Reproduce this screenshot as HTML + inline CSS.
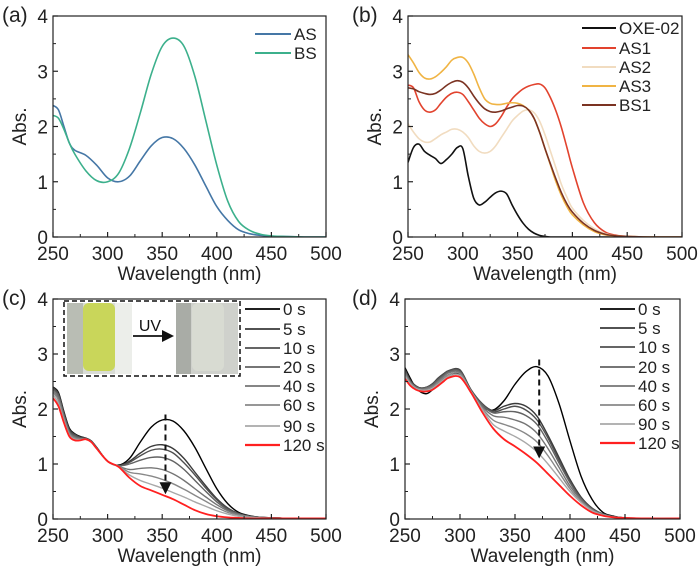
<!DOCTYPE html>
<html><head><meta charset="utf-8">
<style>
html,body{margin:0;padding:0;background:#fff;}
svg{display:block;font-family:"Liberation Sans",Arial,sans-serif;}
</style></head>
<body>
<svg id="fig" width="700" height="568" viewBox="0 0 700 568"></svg>
<script>
// ---------- DATA ----------
const wlA = [250,255,260,265,270,280,290,300,310,320,330,340,350,360,370,380,390,400,410,420,430,440,450,460,480,500];
const valAS = [2.38,2.3,2.0,1.7,1.57,1.48,1.3,1.07,1.0,1.1,1.38,1.65,1.8,1.78,1.6,1.3,0.92,0.55,0.3,0.13,0.06,0.03,0.015,0.01,0,0];
const valBS = [2.2,2.15,1.95,1.7,1.5,1.2,1.02,1.0,1.15,1.6,2.25,2.95,3.45,3.6,3.45,2.9,2.1,1.3,0.65,0.28,0.12,0.05,0.02,0.01,0,0];

const wlB = [250,255,260,265,270,275,280,285,290,295,300,305,310,315,320,325,330,335,340,345,350,355,360,365,370,375,380,385,390,395,400,410,420,430,440,450,470,500];
const valOXE = [1.35,1.62,1.68,1.55,1.48,1.42,1.33,1.4,1.5,1.62,1.6,1.1,0.7,0.58,0.63,0.72,0.8,0.83,0.78,0.58,0.4,0.25,0.14,0.07,0.03,0.01,0,0,0,0,0,0,0,0,0,0,0,0];
const valAS1 = [2.75,2.7,2.45,2.3,2.26,2.3,2.42,2.53,2.6,2.62,2.58,2.45,2.3,2.15,2.05,2.0,2.05,2.18,2.35,2.5,2.6,2.68,2.73,2.76,2.77,2.7,2.52,2.28,1.98,1.62,1.25,0.62,0.26,0.09,0.03,0.01,0,0];
const valAS2 = [2.05,1.9,1.78,1.72,1.72,1.78,1.85,1.9,1.95,1.95,1.9,1.8,1.65,1.55,1.52,1.55,1.65,1.8,1.95,2.1,2.2,2.28,2.3,2.25,2.1,1.85,1.55,1.25,0.95,0.72,0.52,0.3,0.15,0.06,0.02,0.01,0,0];
const valAS3 = [3.3,3.15,2.98,2.88,2.86,2.9,2.98,3.08,3.2,3.25,3.25,3.15,2.95,2.7,2.5,2.42,2.4,2.4,2.42,2.43,2.42,2.38,2.3,2.15,1.9,1.6,1.3,1.0,0.75,0.55,0.4,0.22,0.1,0.04,0.02,0.01,0,0];
const valBS1 = [2.7,2.68,2.63,2.6,2.58,2.6,2.66,2.74,2.8,2.83,2.8,2.7,2.55,2.42,2.32,2.27,2.26,2.28,2.32,2.35,2.38,2.37,2.3,2.15,1.9,1.6,1.32,1.05,0.8,0.6,0.45,0.25,0.12,0.05,0.02,0.01,0,0];

const wlC = [250,255,260,265,270,275,280,285,290,300,310,320,330,340,350,360,370,380,390,400,410,420,430,440,450,470,500];
const timeLabels = ["0 s","5 s","10 s","20 s","40 s","60 s","90 s","120 s"];
const c0 = [2.4,2.3,1.95,1.65,1.55,1.5,1.47,1.42,1.3,1.05,0.98,1.1,1.4,1.67,1.8,1.78,1.6,1.3,0.92,0.55,0.28,0.12,0.06,0.03,0.02,0.01,0.01];
const c5 = [2.39,2.28,1.93,1.63,1.54,1.49,1.47,1.42,1.3,1.05,0.97,1.05,1.2,1.32,1.35,1.28,1.1,0.85,0.6,0.37,0.2,0.1,0.05,0.03,0.02,0.01,0.01];
const c10 = [2.37,2.26,1.91,1.61,1.53,1.48,1.46,1.41,1.29,1.05,0.97,1.03,1.15,1.25,1.27,1.2,1.02,0.8,0.56,0.35,0.19,0.1,0.05,0.03,0.02,0.01,0.01];
const c20 = [2.35,2.24,1.89,1.59,1.51,1.47,1.46,1.41,1.29,1.05,0.97,1.0,1.07,1.12,1.12,1.05,0.9,0.7,0.5,0.31,0.17,0.09,0.05,0.03,0.02,0.01,0.01];
const c40 = [2.32,2.2,1.86,1.57,1.49,1.46,1.46,1.41,1.29,1.05,0.96,0.9,0.92,0.93,0.9,0.82,0.7,0.55,0.4,0.26,0.15,0.08,0.04,0.02,0.02,0.01,0.01];
const c60 = [2.3,2.16,1.83,1.55,1.47,1.45,1.45,1.4,1.28,1.05,0.96,0.85,0.82,0.78,0.72,0.64,0.54,0.43,0.32,0.21,0.12,0.07,0.04,0.02,0.02,0.01,0.01];
const c90 = [2.26,2.1,1.79,1.52,1.45,1.44,1.45,1.4,1.28,1.05,0.95,0.8,0.7,0.63,0.56,0.48,0.4,0.31,0.23,0.15,0.09,0.05,0.03,0.02,0.01,0.01,0.01];
const c120 = [2.2,2.05,1.75,1.5,1.43,1.43,1.45,1.4,1.28,1.05,0.95,0.75,0.6,0.52,0.44,0.36,0.26,0.16,0.09,0.05,0.03,0.02,0.01,0.01,0.01,0.01,0.01];

const d0 = [2.75,2.55,2.38,2.3,2.28,2.35,2.45,2.55,2.6,2.62,2.3,2.05,1.98,2.15,2.45,2.68,2.77,2.6,2.1,1.42,0.78,0.36,0.12,0.05,0.02,0.01,0.01];
const d5 = [2.72,2.52,2.42,2.38,2.4,2.46,2.56,2.64,2.7,2.71,2.35,2.1,1.97,2.05,2.1,2.05,1.87,1.52,1.12,0.72,0.4,0.2,0.09,0.04,0.02,0.01,0.01];
const d10 = [2.7,2.5,2.41,2.38,2.4,2.45,2.55,2.63,2.7,2.7,2.35,2.1,1.95,2.0,2.05,1.98,1.8,1.47,1.07,0.69,0.38,0.19,0.09,0.04,0.02,0.01,0.01];
const d20 = [2.68,2.49,2.4,2.37,2.39,2.44,2.53,2.61,2.68,2.68,2.33,2.08,1.93,1.95,1.95,1.88,1.72,1.4,1.02,0.66,0.37,0.18,0.09,0.04,0.02,0.01,0.01];
const d40 = [2.66,2.48,2.39,2.36,2.38,2.42,2.5,2.59,2.66,2.66,2.33,2.05,1.88,1.85,1.8,1.72,1.56,1.28,0.94,0.6,0.35,0.17,0.08,0.04,0.02,0.01,0.01];
const d60 = [2.63,2.47,2.38,2.35,2.36,2.4,2.48,2.56,2.63,2.64,2.32,2.02,1.8,1.72,1.65,1.55,1.4,1.15,0.85,0.55,0.32,0.16,0.08,0.03,0.02,0.01,0.01];
const d90 = [2.6,2.45,2.37,2.34,2.34,2.37,2.45,2.53,2.6,2.61,2.32,2.0,1.72,1.6,1.5,1.38,1.22,1.0,0.75,0.5,0.3,0.15,0.07,0.03,0.02,0.01,0.01];
const d120 = [2.55,2.42,2.35,2.32,2.32,2.35,2.42,2.5,2.57,2.58,2.3,1.95,1.65,1.45,1.32,1.18,1.02,0.82,0.62,0.42,0.25,0.12,0.06,0.03,0.02,0.01,0.01];

const xTicks = [250,300,350,400,450,500];
const yTicks = [0,1,2,3,4];
const arrowC = [353,1.9,0.45];
const arrowD = [372,2.9,1.1];

// ---------- DRAWING ----------
const NS="http://www.w3.org/2000/svg";
const svg=document.getElementById('fig');
function mk(tag,attrs,parent){const e=document.createElementNS(NS,tag);for(const k in attrs)e.setAttribute(k,attrs[k]);(parent||svg).appendChild(e);return e;}

function smoothPath(pts){
  let d=`M${pts[0][0].toFixed(2)},${pts[0][1].toFixed(2)}`;
  for(let i=0;i<pts.length-1;i++){
    const p0=pts[Math.max(0,i-1)],p1=pts[i],p2=pts[i+1],p3=pts[Math.min(pts.length-1,i+2)];
    const c1=[p1[0]+(p2[0]-p0[0])/6,p1[1]+(p2[1]-p0[1])/6];
    const c2=[p2[0]-(p3[0]-p1[0])/6,p2[1]-(p3[1]-p1[1])/6];
    d+=`C${c1[0].toFixed(2)},${c1[1].toFixed(2)} ${c2[0].toFixed(2)},${c2[1].toFixed(2)} ${p2[0].toFixed(2)},${p2[1].toFixed(2)}`;
  }
  return d;
}

function panel(cfg){
  const g=mk('g',{});
  
  
  const L=cfg.L,R=cfg.R,T=cfg.T,B=cfg.B;
  const sx=v=>L+(v-250)/(500-250)*(R-L);
  const sy=v=>B-(v/4)*(B-T);
  const sg=mk('g',{'clip-path':`url(#clip-${cfg.id})`},g);
  const cp=mk('clipPath',{id:'clip-'+cfg.id},g);
  mk('rect',{x:L,y:T,width:R-L,height:B-T},cp);
  cfg.series.forEach(s=>{
    const pts=cfg.wl.map((w,i)=>[sx(w),sy(s.v[i])]);
    const p=mk('path',{d:smoothPath(pts),fill:'none',stroke:s.c,'stroke-width':s.w||1.6,'stroke-linejoin':'round'},sg);
    
    
  });
  const fr=mk('rect',{x:L,y:T,width:R-L,height:B-T,fill:'none',stroke:'#222','stroke-width':1.2},g);
  
  
  xTicks.forEach((t,i)=>{
    const x=sx(t);
    mk('line',{x1:x,x2:x,y1:B,y2:B-5,stroke:'#222','stroke-width':1.2},g);
    if(i<xTicks.length-1){const xm=sx(t+25);mk('line',{x1:xm,x2:xm,y1:B,y2:B-3,stroke:'#222','stroke-width':1},g);}
    const tx=mk('text',{x:x,y:B+23,'text-anchor':'middle','font-size':19,fill:'#222'},g);
    tx.textContent=t;
    
    
  });
  yTicks.forEach((t,i)=>{
    const y=sy(t);
    mk('line',{x1:L,x2:L+5,y1:y,y2:y,stroke:'#222','stroke-width':1.2},g);
    if(i<yTicks.length-1){const ym=sy(t+0.5);mk('line',{x1:L,x2:L+3,y1:ym,y2:ym,stroke:'#222','stroke-width':1},g);}
    const ty=mk('text',{x:L-5,y:y+7,'text-anchor':'end','font-size':19,fill:'#222'},g);
    ty.textContent=t;
    
    
  });
  const xt=mk('text',{x:(L+R)/2,y:B+43,'text-anchor':'middle','font-size':19,fill:'#222'},g);
  xt.textContent='Wavelength (nm)';
  
  
  const yt=mk('text',{x:0,y:0,'text-anchor':'middle','font-size':19,fill:'#222',transform:`translate(${L-27},${(T+B)/2}) rotate(-90)`},g);
  yt.textContent='Abs.';
  
  
  const pl=mk('text',{x:cfg.lx,y:T+6,'font-size':21,fill:'#222'},g);
  pl.textContent=cfg.label;
  
  
  cfg.series.forEach((s,i)=>{
    const y=cfg.leg.ys[i];
    const ln=mk('line',{x1:cfg.leg.x1,x2:cfg.leg.x2,y1:y,y2:y,stroke:s.c,'stroke-width':(s.w||1.6)+0.4},g);
    
    
    const lt=mk('text',{x:cfg.leg.x2+3,y:y+6,'font-size':17,fill:'#222'},g);
    lt.textContent=s.n;
    
    
  });
  if(cfg.arrow){
    const [w,a,b]=cfg.arrow;const x=sx(w);
    const al=mk('line',{x1:x,x2:x,y1:sy(a),y2:sy(b)-10,stroke:'#111','stroke-width':2,'stroke-dasharray':'6,4'},g);
    
    
    const y2=sy(b);
    mk('polygon',{points:`${x-6},${y2-12} ${x+6},${y2-12} ${x},${y2}`,fill:'#111'},g);
  }
  return g;
}

const grays=['#000','#3a3a3a','#4f4f4f','#626262','#747474','#888','#a8a8a8','#ff2020'];

panel({id:'a',name:'panel-a',label:'(a)',lx:2,L:53,R:326,T:16,B:237,wl:wlA,
  series:[{n:'AS',c:'#4577a6',v:valAS},{n:'BS',c:'#3cb08c',v:valBS}],
  leg:{x1:255,x2:291,ys:[34,53]}});
panel({id:'b',name:'panel-b',label:'(b)',lx:352,L:408,R:682,T:16,B:237,wl:wlB,
  series:[{n:'OXE-02',c:'#111',v:valOXE},{n:'AS1',c:'#e2432e',v:valAS1},{n:'AS2',c:'#f1dcc0',v:valAS2},{n:'AS3',c:'#f0b444',v:valAS3},{n:'BS1',c:'#7b3322',v:valBS1}],
  leg:{x1:582,x2:616,ys:[28,48,67,86,105]}});
panel({id:'c',name:'panel-c',label:'(c)',lx:2,L:53,R:326,T:299,B:519,wl:wlC,arrow:arrowC,
  series:[c0,c5,c10,c20,c40,c60,c90,c120].map((v,i)=>({n:timeLabels[i],c:grays[i],v:v,w:i===7?1.8:1.4})),
  leg:{x1:245,x2:280,ys:[309,329,348,367,386,405,426,445]}});
panel({id:'d',name:'panel-d',label:'(d)',lx:352,L:405,R:680,T:299,B:519,wl:wlC,arrow:arrowD,
  series:[d0,d5,d10,d20,d40,d60,d90,d120].map((v,i)=>({n:timeLabels[i],c:grays[i],v:v,w:i===7?1.8:1.4})),
  leg:{x1:600,x2:635,ys:[309,328,347,367,386,405,424,443]}});

const ins=mk('g',{});


mk('rect',{x:64,y:301,width:176,height:75,fill:'#fff'},ins);
const p1=mk('rect',{x:67,y:303,width:65,height:71,fill:'#d9dcd6'},ins);


mk('rect',{x:67,y:303,width:16,height:71,fill:'#b9bdb4'},ins);
mk('rect',{x:83,y:303,width:32,height:68,rx:6,fill:'#c9d65a'},ins);
mk('rect',{x:115,y:303,width:17,height:71,fill:'#eceeea'},ins);
const p2=mk('rect',{x:176,y:303,width:62,height:71,fill:'#cfd1cc'},ins);


mk('rect',{x:176,y:303,width:15,height:71,fill:'#a9aca6'},ins);
mk('rect',{x:192,y:303,width:32,height:68,rx:6,fill:'#d8dbd2'},ins);
mk('rect',{x:64,y:301,width:176,height:75,fill:'none',stroke:'#111','stroke-width':1.5,'stroke-dasharray':'5,3'},ins);
mk('line',{x1:133,x2:164,y1:336,y2:336,stroke:'#111','stroke-width':1.8},ins);
mk('polygon',{points:'162,330 174,336 162,342',fill:'#111'},ins);
const uv=mk('text',{x:150,y:331,'text-anchor':'middle','font-size':16,fill:'#111'},ins);
uv.textContent='UV';


</script>
</body></html>
